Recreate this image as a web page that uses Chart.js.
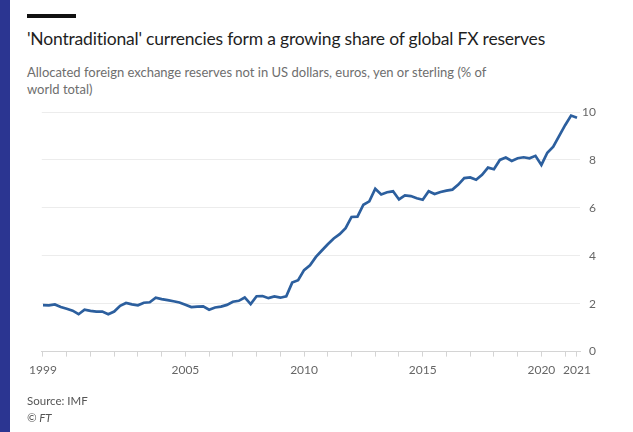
<!DOCTYPE html>
<html>
<head>
<meta charset="utf-8">
<script src="https://cdn.jsdelivr.net/npm/chart.js@4.4.0/dist/chart.umd.min.js"></script>
<style>
  html, body { margin: 0; padding: 0; background: #fff; }
  body { width: 633px; height: 432px; position: relative; overflow: hidden; font-family: "Lato", "Open Sans", sans-serif; }
  .strip { position: absolute; left: 0; top: 0; width: 10px; height: 432px; background: #2b3591; }
  .bar { position: absolute; left: 27px; top: 14px; width: 49px; height: 4px; background: #111; }
  .title { position: absolute; left: 27px; top: 28px; font-size: 17.5px; color: #1f1f1f; white-space: nowrap; letter-spacing: -0.2px; }
  .sub { position: absolute; left: 27px; top: 64px; font-size: 13px; line-height: 17px; color: #6e6e6e; white-space: nowrap; }
  .src { position: absolute; left: 27px; top: 392px; font-size: 11.5px; line-height: 17px; color: #555; }
  .src i { font-style: italic; }
  canvas { position: absolute; left: 0; top: 0; }
</style>
</head>
<body>
<div class="strip"></div>
<div class="bar"></div>
<div class="title">'Nontraditional' currencies form a growing share of global FX reserves</div>
<div class="sub">Allocated foreign exchange reserves not in US dollars, euros, yen or sterling (% of<br>world total)</div>
<canvas id="fxChart" width="633" height="432"></canvas>
<div class="src">Source: IMF<br><i>© FT</i></div>
<script>
// quarters 1999Q1 .. 2021Q3
const quarters = [];
for (let y = 1999; y <= 2021; y++) {
  for (let q = 1; q <= 4; q++) {
    if (y === 2021 && q > 3) break;
    quarters.push(y + "Q" + q);
  }
}

// share of allocated reserves in "nontraditional" currencies, %
const shareOfReserves = [
  1.94, 1.93, 1.97, 1.86,   // 1999
  1.79, 1.71, 1.56, 1.75,   // 2000
  1.70, 1.67, 1.67, 1.56,   // 2001
  1.67, 1.91, 2.03, 1.97,   // 2002
  1.93, 2.04, 2.06, 2.25,   // 2003
  2.19, 2.15, 2.10, 2.05,   // 2004
  1.96, 1.86, 1.88, 1.89,   // 2005
  1.75, 1.84, 1.88, 1.95,   // 2006
  2.08, 2.12, 2.26, 1.98,   // 2007
  2.31, 2.32, 2.23, 2.30,   // 2008
  2.25, 2.31, 2.88, 2.98,   // 2009
  3.40, 3.60, 3.95, 4.22,   // 2010
  4.48, 4.72, 4.90, 5.15,   // 2011
  5.62, 5.63, 6.13, 6.27,   // 2012
  6.80, 6.56, 6.65, 6.69,   // 2013
  6.35, 6.52, 6.49, 6.40,   // 2014
  6.34, 6.69, 6.58, 6.66,   // 2015
  6.72, 6.76, 6.97, 7.24,   // 2016
  7.27, 7.17, 7.38, 7.68,   // 2017
  7.61, 8.00, 8.10, 7.96,   // 2018
  8.07, 8.11, 8.07, 8.17,   // 2019
  7.79, 8.30, 8.55, 9.00,   // 2020
  9.45, 9.85, 9.76          // 2021
];

const labelledYears = [1999, 2005, 2010, 2015, 2020];
const endLabel = "2021";
const yTicks = [0, 2, 4, 6, 8, 10];

const toYear = s => {
  const [y, q] = s.split("Q").map(Number);
  return y + (q - 1) / 4;
};
const points = quarters.map((s, i) => ({ x: toYear(s), y: shareOfReserves[i] }));
const dataEnd = points[points.length - 1].x;

const tickValues = [];
for (let y = 1999; y <= 2021; y++) tickValues.push(y);
tickValues.push(dataEnd);

const tickFont = { family: "Lato, 'Open Sans', sans-serif", size: 12 };

new Chart(document.getElementById("fxChart"), {
  type: "line",
  data: {
    datasets: [{
      data: points,
      borderColor: "#2c5f9e",
      borderWidth: 2.7,
      pointRadius: 0,
      tension: 0,
      fill: false
    }]
  },
  options: {
    responsive: false,
    animation: false,
    layout: { padding: { left: 41.8, top: 112, right: 37, bottom: 49 } },
    plugins: { legend: { display: false }, tooltip: { enabled: false } },
    scales: {
      x: {
        type: "linear",
        min: 1998.95,
        max: 2021.63,
        afterBuildTicks: axis => { axis.ticks = tickValues.map(v => ({ value: v })); },
        ticks: {
          autoSkip: false,
          maxRotation: 0,
          color: "#666",
          font: tickFont,
          padding: 6,
          callback: v => v === dataEnd ? endLabel : (labelledYears.includes(v) ? String(v) : "")
        },
        grid: { drawOnChartArea: false, drawTicks: true, tickLength: 5, color: "#d4d4d4" },
        border: { display: true, color: "#d4d4d4" }
      },
      y: {
        position: "right",
        min: 0,
        max: 10,
        afterBuildTicks: axis => { axis.ticks = yTicks.map(v => ({ value: v })); },
        ticks: { color: "#666", font: tickFont, padding: 1, crossAlign: "far" },
        grid: { color: "#ececec", drawTicks: false },
        border: { display: false }
      }
    }
  }
});
</script>
</body>
</html>
